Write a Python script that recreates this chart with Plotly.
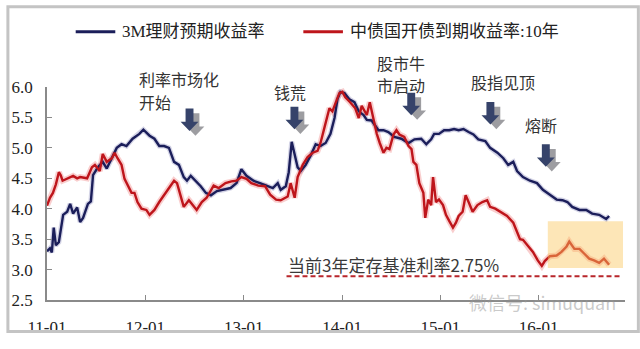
import plotly.graph_objects as go

# ---------------- data ----------------
blue_name = "3M理财预期收益率"
red_name = "中债国开债到期收益率:10年"

blue_dates = ["2011-01-01","2011-01-12","2011-01-19","2011-01-26","2011-02-03","2011-02-14","2011-03-02","2011-03-17",
    "2011-03-28","2011-04-08","2011-04-23","2011-05-04","2011-05-15","2011-06-02","2011-06-13","2011-06-21","2011-07-09",
    "2011-07-27","2011-08-11","2011-08-30","2011-09-17","2011-10-05","2011-10-23","2011-11-15","2011-12-10","2011-12-25",
    "2012-01-17","2012-02-04","2012-02-22","2012-03-11","2012-03-29","2012-04-17","2012-05-05","2012-05-23","2012-06-04",
    "2012-06-18","2012-07-07","2012-07-25","2012-08-13","2012-09-01","2012-09-23","2012-10-18","2012-11-13","2012-12-05",
    "2012-12-23","2013-01-11","2013-02-06","2013-03-02","2013-03-24","2013-04-19","2013-05-07","2013-05-18","2013-06-06",
    "2013-06-17","2013-06-28","2013-07-09","2013-07-20","2013-08-01","2013-08-19","2013-09-07","2013-09-25","2013-10-13",
    "2013-11-01","2013-11-19","2013-12-04","2013-12-15","2013-12-26","2014-01-10","2014-01-28","2014-02-16","2014-03-04",
    "2014-03-22","2014-04-03","2014-04-21","2014-05-16","2014-06-04","2014-06-22","2014-07-14","2014-08-09","2014-09-05",
    "2014-09-27","2014-10-22","2014-11-10","2014-11-28","2014-12-09","2014-12-27","2015-01-15","2015-02-03","2015-02-21",
    "2015-03-10","2015-03-28","2015-04-16","2015-05-04","2015-05-22","2015-06-17","2015-07-05","2015-08-01","2015-08-23",
    "2015-09-10","2015-09-29","2015-10-13","2015-11-04","2015-11-30","2015-12-26","2016-01-17","2016-02-12","2016-03-08",
    "2016-03-30","2016-04-17","2016-05-05","2016-06-01","2016-06-26","2016-07-18","2016-08-13","2016-09-08","2016-09-19"]
blue_vals = [3.30,3.35,3.28,3.69,3.40,3.45,3.90,3.95,
    4.08,3.92,4.02,3.78,3.85,4.08,4.12,4.55,4.68,
    4.77,4.66,4.83,5.00,5.06,5.03,5.15,5.23,5.30,
    5.20,5.15,5.03,5.03,5.00,4.77,4.72,4.52,4.46,
    4.54,4.46,4.37,4.26,4.22,4.29,4.31,4.34,4.42,
    4.65,4.54,4.46,4.42,4.38,4.34,4.42,4.31,4.37,
    4.60,5.10,4.88,4.68,4.62,4.72,4.88,5.06,5.03,
    5.08,5.23,5.49,5.80,5.92,5.90,5.80,5.75,5.60,
    5.54,5.46,5.45,5.29,5.29,5.26,5.18,5.15,5.08,
    5.14,5.15,5.06,5.14,5.23,5.23,5.29,5.29,5.31,
    5.29,5.31,5.26,5.22,5.14,5.11,5.00,4.92,4.83,
    4.72,4.77,4.62,4.52,4.46,4.42,4.31,4.23,4.15,
    4.14,4.11,4.03,3.98,3.98,3.92,3.90,3.83,3.88]

red_dates = ["2011-01-01","2011-01-12","2011-01-23","2011-02-03","2011-02-14","2011-02-21","2011-02-28","2011-03-17",
    "2011-04-08","2011-04-23","2011-05-04","2011-05-30","2011-06-17","2011-06-28","2011-07-16","2011-07-27","2011-08-11",
    "2011-08-30","2011-09-09","2011-09-20","2011-10-05","2011-10-16","2011-10-27","2011-11-11","2011-11-22","2011-12-03",
    "2011-12-18","2012-01-05","2012-01-17","2012-02-04","2012-02-22","2012-03-11","2012-03-29","2012-04-17","2012-04-28",
    "2012-05-12","2012-05-23","2012-06-11","2012-06-29","2012-07-10","2012-07-29","2012-08-16","2012-09-11","2012-09-30",
    "2012-10-25","2012-11-16","2012-12-05","2012-12-23","2013-01-11","2013-01-29","2013-02-24","2013-03-21","2013-04-09",
    "2013-05-01","2013-05-18","2013-06-06","2013-06-13","2013-06-24","2013-07-09","2013-07-20","2013-08-08","2013-08-26",
    "2013-09-14","2013-10-02","2013-10-13","2013-10-28","2013-11-15","2013-11-26","2013-12-07","2013-12-22","2014-01-02",
    "2014-01-13","2014-01-31","2014-02-19","2014-03-04","2014-03-15","2014-04-03","2014-04-14","2014-04-29","2014-05-10",
    "2014-05-21","2014-06-04","2014-06-15","2014-06-26","2014-07-11","2014-07-22","2014-08-02","2014-08-20","2014-09-05",
    "2014-09-16","2014-09-23","2014-10-04","2014-10-15","2014-10-30","2014-11-06","2014-11-17","2014-11-28","2014-12-05",
    "2014-12-16","2014-12-27","2015-01-11","2015-01-22","2015-02-03","2015-02-17","2015-02-28","2015-03-10","2015-03-25",
    "2015-04-05","2015-04-16","2015-05-01","2015-05-19","2015-06-06","2015-06-24","2015-07-05","2015-07-24","2015-08-11",
    "2015-09-06","2015-09-29","2015-10-13","2015-10-24","2015-11-04","2015-11-23","2015-12-11","2015-12-29","2016-01-13",
    "2016-01-24","2016-02-12","2016-03-08","2016-03-26","2016-04-14","2016-04-24","2016-05-13","2016-06-01","2016-06-19",
    "2016-07-07","2016-07-25","2016-08-13","2016-08-31","2016-09-19"]
red_vals = [4.05,4.18,4.26,4.40,4.60,4.55,4.46,4.49,
    4.54,4.50,4.52,4.50,4.68,4.72,4.62,4.90,4.77,
    4.83,4.92,4.83,4.72,4.49,4.38,4.26,4.26,4.11,
    4.00,3.98,3.90,3.98,4.11,4.23,4.34,4.46,4.42,
    4.18,4.03,4.14,4.03,3.98,4.11,4.18,4.38,4.34,
    4.42,4.45,4.46,4.52,4.49,4.42,4.38,4.37,4.23,
    4.15,4.14,4.18,4.20,4.42,4.18,4.52,4.72,4.85,
    4.92,4.95,5.08,5.34,5.65,5.60,5.72,5.90,5.92,
    5.83,5.75,5.65,5.49,5.69,5.54,5.75,5.45,5.23,
    5.08,4.92,5.00,4.98,5.22,5.29,5.22,5.18,5.03,
    4.98,4.77,4.72,4.42,4.26,3.85,4.15,4.06,4.52,
    4.11,4.15,4.06,3.90,3.80,3.69,3.77,3.88,3.95,
    4.22,4.11,3.95,4.06,4.11,4.14,4.03,4.00,3.95,
    3.88,3.77,3.60,3.50,3.49,3.38,3.29,3.15,3.06,
    3.14,3.22,3.23,3.29,3.38,3.46,3.34,3.34,3.26,
    3.18,3.15,3.11,3.18,3.08]

year_ticks = ["2011-01-01","2012-01-01","2013-01-01","2014-01-01","2015-01-01","2016-01-01"]
year_labels = ["11-01","12-01","13-01","14-01","15-01","16-01"]

deposit_rate_line = 2.89
deposit_label = "当前3年定存基准利率2.75%"
# (lines of text, text left px, first line centre px, arrow centre px, arrow top px)
events = [
    (["利率市场化", "开始"], 132, 79, 185, 110),
    (["钱荒"], 268, 92, 291, 108),
    (["股市牛", "市启动"], 372, 61, 409, 93),
    (["股指见顶"], 467, 82, 489, 103),
    (["熔断"], 522, 128, 545, 148),
]

# ---------------- layout geometry ----------------
W, H = 640, 349
ML, MR, MT, MB = 41, 15, 87, 35
PW, PH = W - ML - MR, H - MT - MB

def px(x):
    return (x - ML) / PW

def py(y):
    return (H - MB - y) / PH

BLUE = "#1B1E5A"
RED = "#BE151B"
CJK = "Noto Sans CJK SC"
SERIF = "Liberation Serif, Noto Sans CJK SC"

fig = go.Figure()
# soft glow
fig.add_trace(go.Scatter(x=blue_dates, y=blue_vals, mode="lines",
                         line=dict(color="rgba(60,60,140,0.22)", width=5), hoverinfo="skip"))
fig.add_trace(go.Scatter(x=red_dates, y=red_vals, mode="lines",
                         line=dict(color="rgba(230,60,60,0.25)", width=6), hoverinfo="skip"))
fig.add_trace(go.Scatter(x=blue_dates, y=blue_vals, mode="lines", name=blue_name,
                         line=dict(color=BLUE, width=2.4)))
fig.add_trace(go.Scatter(x=red_dates, y=red_vals, mode="lines", name=red_name,
                         line=dict(color=RED, width=2.4)))

shapes = []
annotations = []

# highlight box
shapes.append(dict(type="rect", xref="paper", yref="paper", x0=px(547), x1=px(623), y0=py(280), y1=py(230),
                   fillcolor="rgba(250,200,95,0.45)", line=dict(width=0), layer="above"))
# deposit rate dashed line
shapes.append(dict(type="line", xref="paper", yref="y", x0=px(283), x1=px(621),
                   y0=deposit_rate_line, y1=deposit_rate_line,
                   line=dict(color="#B8262B", width=2, dash="5px,3px")))
annotations.append(dict(text=deposit_label, xref="paper", yref="paper", x=px(282), y=py(276),
                        xanchor="left", yanchor="middle", showarrow=False,
                        font=dict(family=CJK, size=17, color="#3a3a3a")))

# event labels + arrows
def arrow_path(cx, top, dx=0, dy=0):
    sw, sh, hw, th = 4, 14, 9, 24
    pts = [(cx - sw, top), (cx + sw, top), (cx + sw, top + sh), (cx + hw, top + sh),
           (cx, top + th), (cx - hw, top + sh), (cx - sw, top + sh)]
    return "M " + " L ".join(f"{px(x + dx):.5f},{py(y + dy):.5f}" for x, y in pts) + " Z"

LINE_STEP = 24
for lines, tx, ty, ax, atop in events:
    for i, line in enumerate(lines):
        annotations.append(dict(text=line, xref="paper", yref="paper", x=px(tx), y=py(ty + i * LINE_STEP),
                                xanchor="left", yanchor="middle", showarrow=False,
                                font=dict(family=CJK, size=16, color="#333333")))
    shapes.append(dict(type="path", xref="paper", yref="paper", path=arrow_path(ax, atop, 6, 5),
                       fillcolor="rgba(140,140,145,0.85)", line=dict(width=0)))
    shapes.append(dict(type="path", xref="paper", yref="paper", path=arrow_path(ax, atop),
                       fillcolor="#36436A", line=dict(width=0)))

# manual legend
legend_items = [(blue_name, BLUE, 70, 110, 115), (red_name, RED, 300, 340, 345)]
for name, col, lx0, lx1, tx in legend_items:
    shapes.append(dict(type="line", xref="paper", yref="paper", x0=px(lx0), x1=px(lx1),
                       y0=py(28), y1=py(28), line=dict(color=col, width=3)))
    annotations.append(dict(text=name, xref="paper", yref="paper", x=px(tx), y=py(28),
                            xanchor="left", yanchor="middle", showarrow=False,
                            font=dict(family=SERIF, size=17, color="#222222")))

# watermark
annotations.append(dict(text="微信号: simuquan", xref="paper", yref="paper", x=px(618), y=py(316),
                        xanchor="right", yanchor="middle", showarrow=False,
                        font=dict(family=CJK, size=18, color="rgba(150,150,150,0.5)")))

# outer frame
shapes.append(dict(type="rect", xref="paper", yref="paper", x0=px(1.5), x1=px(638.5), y0=py(347.5), y1=py(1.5),
                   line=dict(color="#C4C4C4", width=3), fillcolor="rgba(0,0,0,0)"))

fig.update_layout(
    width=W, height=H, margin=dict(l=ML, r=MR, t=MT, b=MB),
    paper_bgcolor="white", plot_bgcolor="white", showlegend=False,
    shapes=shapes, annotations=annotations,
    xaxis=dict(range=["2011-01-01", "2016-11-17"], tickvals=year_ticks, ticktext=year_labels,
               showgrid=False, zeroline=False, showline=True, linecolor="#8a8a8a", linewidth=1.5,
               ticks="inside", ticklen=5, tickcolor="#8a8a8a", ticklabelstandoff=11,
               tickfont=dict(family=SERIF, size=17, color="#222222")),
    yaxis=dict(range=[2.5, 6.0], dtick=0.5, tick0=2.5, tickformat=".1f",
               showgrid=False, zeroline=False, showline=True, linecolor="#8a8a8a", linewidth=1.5,
               ticks="inside", ticklen=5, tickcolor="#8a8a8a", ticklabelstandoff=9,
               tickfont=dict(family=SERIF, size=17, color="#222222")),
)

fig.write_html("out.html")
